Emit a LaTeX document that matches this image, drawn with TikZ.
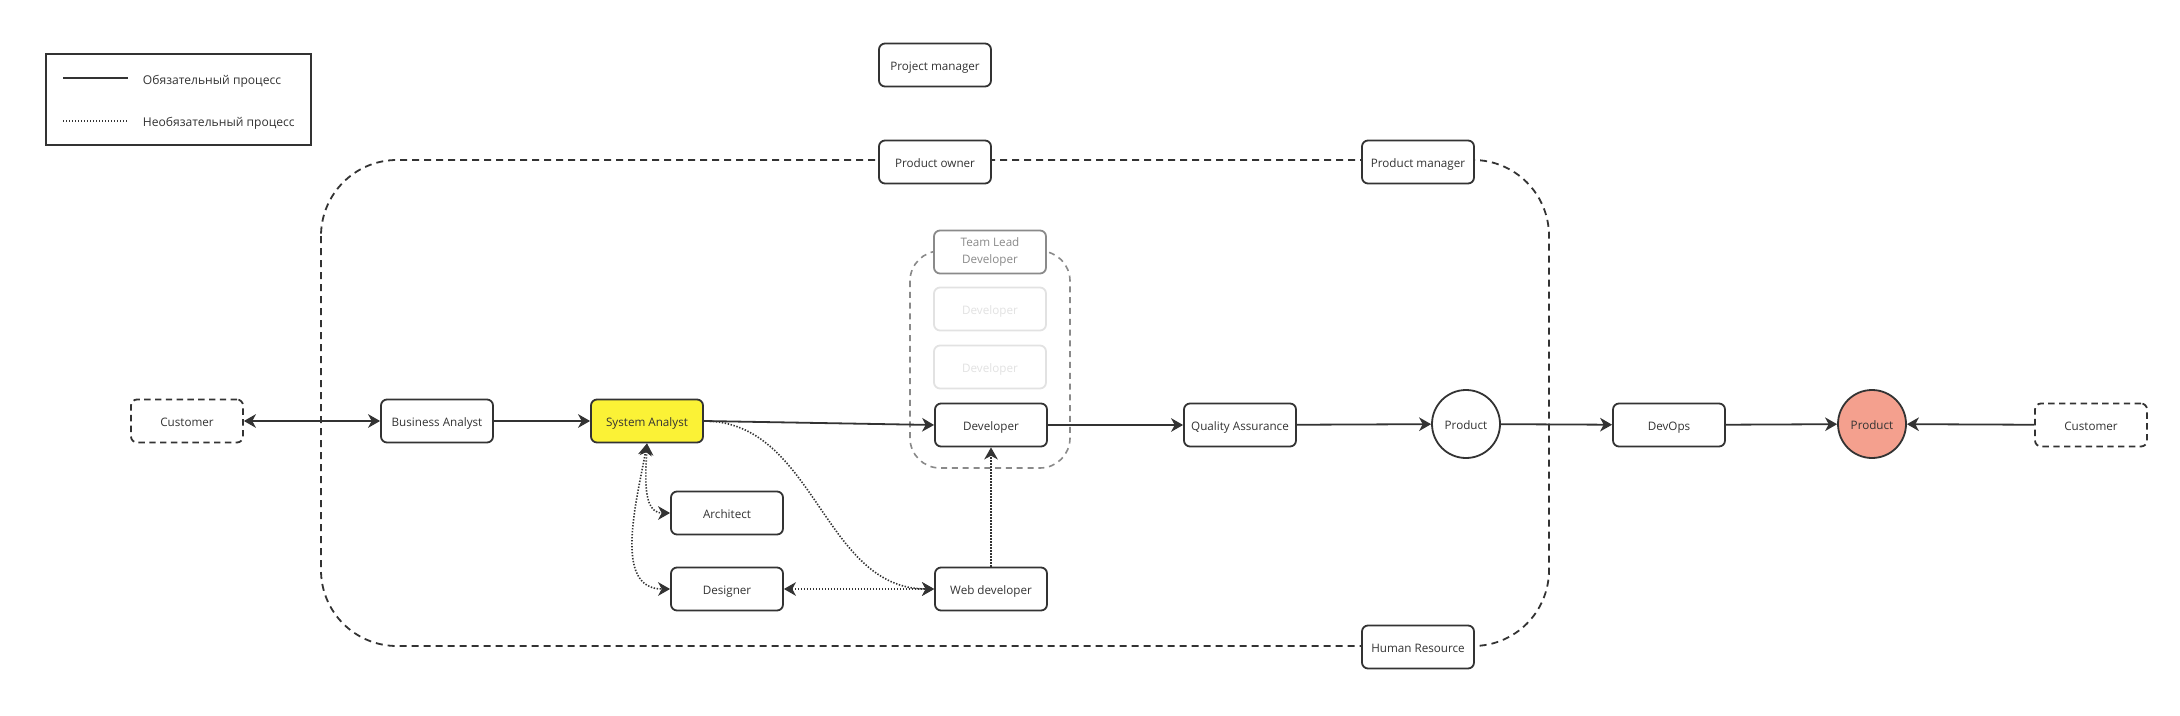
\documentclass[tikz,border=0pt]{standalone}
\usepackage{fontspec}
\setmainfont{Open Sans}
\usetikzlibrary{arrows.meta}
\definecolor{ink}{HTML}{333333}
\definecolor{lead}{HTML}{8A8A8A}
\definecolor{faded}{HTML}{E2E2E2}
\definecolor{sysyellow}{HTML}{FBF236}
\definecolor{salmon}{HTML}{F4A08E}
\begin{document}
\begin{tikzpicture}[x=0.25mm,y=-0.25mm,
    >={Stealth[length=3mm,width=3.4mm,inset=0.9mm]},
    box/.style={draw=ink,line width=0.45mm,rounded corners=1.5mm,fill=white,
        minimum width=28mm,minimum height=10.75mm,inner sep=0pt,text=ink,
        text height=0.8em,text depth=0pt,
        font=\fontsize{8.3}{10}\selectfont},
    ext/.style={box,dash pattern=on 1.6mm off 1.1mm},
    disc/.style={circle,draw=ink,line width=0.45mm,fill=white,minimum size=17mm,
        inner sep=0pt,text=ink,text height=0.8em,text depth=0pt,
        font=\fontsize{8.3}{10}\selectfont},
    must/.style={draw=ink,line width=0.45mm},
    may/.style={draw=ink,line width=0.4mm,dash pattern=on 0.35mm off 0.4mm}]
    \useasboundingbox (0,0) rectangle (2180,716);
    %% legend
    \draw[ink,line width=0.5mm] (46,54) rectangle (311,145);
    \coordinate (mustA) at (63,78);  \coordinate (mustB) at (128,78);
    \coordinate (mayA) at (63,121);  \coordinate (mayB) at (128,121);
    \draw[must] (mustA) -- (mustB);
    \draw[may] (mayA) -- (mayB);
    \node[anchor=west,text=ink,font=\fontsize{8.6}{10}\selectfont] (mustT) at (138,81) {Обязательный процесс};
    \node[anchor=west,text=ink,font=\fontsize{8.6}{10}\selectfont] (mayT) at (138,123) {Необязательный процесс};
    %% team boundaries
    \draw[ink,line width=0.45mm,dash pattern=on 1.75mm off 1.25mm,rounded corners=19mm]
        (321,160) rectangle (1549,646);
    \draw[lead,line width=0.4mm,dash pattern=on 1.5mm off 1.2mm,rounded corners=7.5mm]
        (910,251) rectangle (1070,468);
    %% roles
    \node[box] (pm) at (935,65) {Project manager};
    \node[box] (po) at (935,162) {Product owner};
    \node[box] (pmg) at (1418,162) {Product manager};
    \node[box] (hr) at (1418,647) {Human Resource};
    \node[box,draw=lead,text=lead,align=center,text height=,text depth=,
        font=\fontsize{8.3}{11.5}\selectfont] (tl) at (990,252) {Team Lead\\Developer};
    \foreach \y/\n in {309/devA,367/devB}
        \node[box,draw=faded,text=faded] (\n) at (990,\y) {Developer};
    \node[box] (dev) at (991,425) {Developer};
    \node[ext] (custL) at (187,421) {Customer};
    \node[box] (ba) at (437,421) {Business Analyst};
    \node[box,fill=sysyellow] (sa) at (647,421) {System Analyst};
    \node[box] (arch) at (727,513) {Architect};
    \node[box] (des) at (727,589) {Designer};
    \node[box] (web) at (991,589) {Web developer};
    \node[box] (qa) at (1240,425) {Quality Assurance};
    \node[disc] (prod) at (1466,424) {Product};
    \node[box] (ops) at (1669,425) {DevOps};
    \node[disc,fill=salmon] (prodF) at (1872,424) {Product};
    \node[ext] (custR) at (2091,425) {Customer};
    %% main flow
    \draw[must,<->] (custL) -- (ba);
    \draw[must,->] (ba) -- (sa);
    \draw[must,->] (sa.east) -- (dev.west);
    \draw[must,->] (dev) -- (qa);
    \draw[must,->] (qa) -- (prod);
    \draw[must,->] (prod) -- (ops);
    \draw[must,->] (ops) -- (prodF);
    \draw[must,->] (custR) -- (prodF);
    %% optional flow
    \draw[may,<->] (sa.south) to[out=-92,in=180] (arch.west);
    \draw[may,<->] (sa.south) to[out=-100,in=180] (des.west);
    \draw[may,->] (sa.east) to[out=0,in=180] (web.west);
    \draw[may,<->] (des) -- (web);
    \draw[may,->] (web) -- (dev);
\end{tikzpicture}
\end{document}
